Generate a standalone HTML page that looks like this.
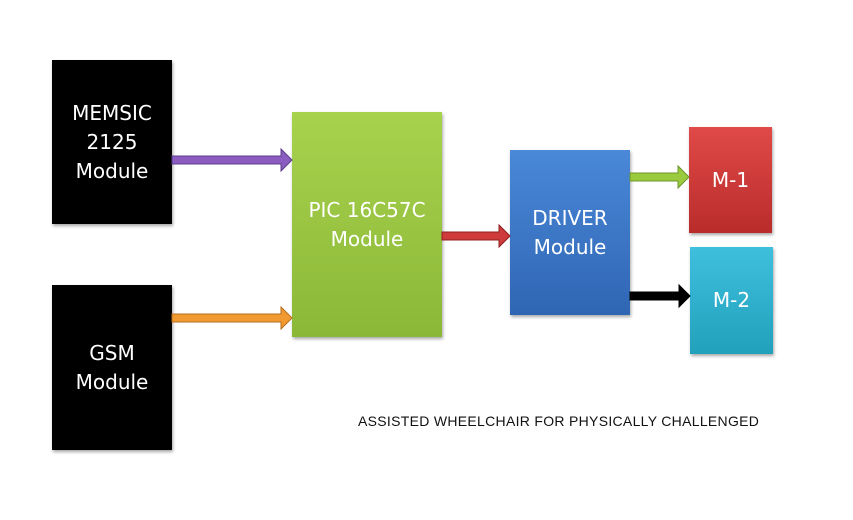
<!DOCTYPE html>
<html><head><style>
body{margin:0;background:#fff;width:853px;height:520px;position:relative;overflow:hidden;font-family:"Liberation Sans",sans-serif}
.b{position:absolute;color:#fff;display:flex;align-items:center;justify-content:center;text-align:center;font-family:"DejaVu Sans","Liberation Sans",sans-serif;font-size:20px;line-height:29px;box-shadow:1px 2px 3px rgba(0,0,0,.35)}
.cap{position:absolute;left:358px;top:413px;font-size:14px;letter-spacing:0.3px;color:#111;white-space:nowrap}
</style></head><body>
<div class="b" style="left:52px;top:60px;width:120px;height:164px;background:#000">MEMSIC<br>2125<br>Module</div>
<div class="b" style="left:52px;top:285px;width:120px;height:165px;background:#000">GSM<br>Module</div>
<div class="b" style="left:292px;top:112px;width:150px;height:225px;background:linear-gradient(#a6d24e,#8cb838)">PIC 16C57C<br>Module</div>
<div class="b" style="left:510px;top:150px;width:120px;height:165px;background:linear-gradient(#4a88d8,#2f66b4)">DRIVER<br>Module</div>
<div class="b" style="left:689px;top:127px;width:83px;height:106px;background:linear-gradient(#e04a48,#b92c2a)">M-1</div>
<div class="b" style="left:690px;top:247px;width:83px;height:107px;background:linear-gradient(#3ec0dc,#22a0bc)">M-2</div>
<svg width="853" height="520" style="position:absolute;left:0;top:0">
<g stroke-width="1">
<path d="M172 156h109v-7l11 11-11 11v-7h-109z" fill="#8a5cc0" stroke="#5e3c8c"/>
<path d="M172 314h109v-7l11 11-11 11v-7h-109z" fill="#f19a32" stroke="#b86e1a"/>
<path d="M442 232h57v-7l11 11-11 11v-7h-57z" fill="#cf3a3a" stroke="#8e2020"/>
<path d="M630 173h48v-7l11 11-11 11v-7h-48z" fill="#9acb3e" stroke="#6e9428"/>
<path d="M630 292h49v-7l11 11-11 11v-7h-49z" fill="#000" stroke="#000"/>
</g></svg>
<div class="cap">ASSISTED WHEELCHAIR FOR PHYSICALLY CHALLENGED</div>
</body></html>
